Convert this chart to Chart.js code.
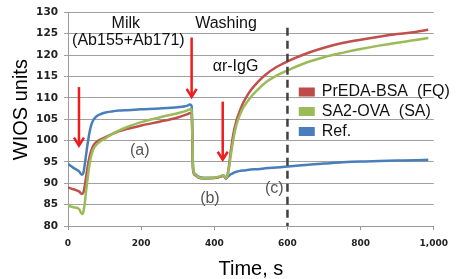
<!DOCTYPE html>
<html><head><meta charset="utf-8">
<script src="https://cdn.jsdelivr.net/npm/chart.js@4.4.0/dist/chart.umd.min.js"></script>
<style>html,body{margin:0;padding:0;background:#fff;overflow:hidden}</style>
</head><body>
<canvas id="c" width="456" height="279"></canvas>
<script>
// ---- data ----
const time  = [0, 15, 30, 38, 42, 46, 50, 55, 60, 65, 70, 80, 90, 100, 120, 140, 160, 200, 250, 300, 325, 333, 338, 342, 347, 355, 370, 400, 415, 425, 432, 438, 445, 452, 460, 470, 480, 500, 520, 540, 570, 600, 650, 700, 750, 800, 850, 900, 950, 985];
const preda = [89.0, 88.6, 88.1, 87.5, 87.8, 89.5, 91.8, 94.5, 96.6, 98.0, 98.9, 99.8, 100.3, 100.7, 101.5, 102.2, 102.7, 103.5, 104.4, 105.4, 106.1, 106.4, 106.5, 93.0, 91.9, 91.4, 91.1, 91.2, 91.5, 91.8, 91.1, 92.8, 97.5, 101.5, 104.5, 107.0, 109.0, 111.8, 113.8, 115.4, 117.2, 118.5, 120.3, 121.7, 122.8, 123.6, 124.3, 124.9, 125.4, 125.9];
const sa2   = [84.7, 84.4, 84.0, 82.8, 83.3, 85.5, 88.5, 92.0, 95.0, 96.9, 98.1, 99.2, 99.9, 100.4, 101.5, 102.4, 103.1, 104.3, 105.4, 106.4, 107.0, 107.3, 107.4, 93.4, 92.1, 91.5, 91.2, 91.3, 91.6, 91.9, 91.2, 92.4, 96.5, 100.2, 103.5, 106.0, 107.8, 110.2, 112.0, 113.6, 115.2, 116.4, 118.2, 119.5, 120.5, 121.4, 122.2, 122.9, 123.5, 124.0];
const ref   = [94.5, 93.6, 92.8, 92.0, 92.4, 94.5, 97.0, 100.0, 102.4, 104.0, 104.9, 105.8, 106.2, 106.5, 106.8, 107.0, 107.1, 107.3, 107.5, 107.8, 108.1, 108.4, 108.1, 93.5, 92.2, 91.6, 91.3, 91.3, 91.5, 91.8, 91.1, 91.6, 92.1, 92.4, 92.7, 92.9, 93.0, 93.2, 93.3, 93.5, 93.7, 93.9, 94.3, 94.6, 94.9, 95.1, 95.2, 95.3, 95.4, 95.5];
const seriesLabels = ['PrEDA-BSA  (FQ)', 'SA2-OVA  (SA)', 'Ref.'];
const xTickValues = [0, 200, 400, 600, 800, 1000];
const yTickValues = [80, 85, 90, 95, 100, 105, 110, 115, 120, 125, 130];

// annotations (data coordinates)
const arrowX   = [30, 338, 423];
const arrowTop = [112.5, 124.1, 109.1];
const arrowTip = [98.8, 110.2, 95.5];
const markerTime = 600;
const noteTexts = ['Milk', '(Ab155+Ab171)', 'Washing', '\u03B1r-IgG', '(a)', '(b)', '(c)'];
const noteX = [158, 165, 432, 458, 196, 388, 564];
const noteY = [127.3, 123.3, 127.3, 117.2, 97.6, 86.3, 88.8];

const lineColors = ['#c0504d', '#9bbb59', '#4a7ebb'];
const legendColors = ['#be4b48', '#9bbb59', '#4a7ebb'];

const toXY = arr => time.map((t, i) => ({x: t, y: arr[i]}));

const annotPlugin = {
  id: 'annot',
  afterDatasetsDraw(chart) {
    const {ctx, scales: {x, y}, chartArea} = chart;
    ctx.save();
    // dashed marker line
    ctx.strokeStyle = '#404040';
    ctx.lineWidth = 2.5;
    ctx.setLineDash([8, 5]);
    ctx.beginPath();
    ctx.moveTo(x.getPixelForValue(markerTime), y.getPixelForValue(126.4));
    ctx.lineTo(x.getPixelForValue(markerTime), y.getPixelForValue(80));
    ctx.stroke();
    ctx.setLineDash([]);
    // arrows
    ctx.strokeStyle = '#ee1c1c';
    ctx.lineWidth = 2.5;
    ctx.lineCap = 'butt';
    for (let i = 0; i < arrowX.length; i++) {
      const px = x.getPixelForValue(arrowX[i]);
      const pt = y.getPixelForValue(arrowTop[i]);
      const pb = y.getPixelForValue(arrowTip[i]);
      ctx.beginPath();
      ctx.moveTo(px, pt); ctx.lineTo(px, pb - 1);
      ctx.stroke();
      ctx.beginPath();
      ctx.moveTo(px - 5, pb - 8); ctx.lineTo(px, pb); ctx.lineTo(px + 5, pb - 8);
      ctx.stroke();
    }
    // notes
    ctx.font = '16px "Liberation Sans", Arial, sans-serif';
    ctx.textAlign = 'center';
    ctx.textBaseline = 'middle';
    for (let i = 0; i < noteTexts.length; i++) {
      ctx.fillStyle = i >= 4 ? '#555' : '#111';
      ctx.fillText(noteTexts[i], x.getPixelForValue(noteX[i]), y.getPixelForValue(noteY[i]));
    }
    // legend
    const lx = chartArea.right - 135;
    const rows = [92, 111.5, 131.5];
    ctx.textAlign = 'left';
    ctx.fillStyle = '#111';
    for (let i = 0; i < seriesLabels.length; i++) {
      ctx.fillStyle = legendColors[i];
      ctx.fillRect(lx, rows[i] - 4.5, 16, 9);
      ctx.fillStyle = '#111';
      ctx.fillText(seriesLabels[i], lx + 23, rows[i]);
    }
    // y axis title
    ctx.save();
    ctx.translate(chartArea.left - 47, (chartArea.top + chartArea.bottom) / 2 - 9.5);
    ctx.rotate(-Math.PI / 2);
    ctx.textAlign = 'center';
    ctx.font = '20px "Liberation Sans", Arial, sans-serif';
    ctx.fillStyle = '#000';
    ctx.fillText('WIOS units', 0, 0);
    ctx.restore();
    ctx.restore();
  }
};

const common = {borderWidth: 2.5, pointRadius: 0, fill: false, cubicInterpolationMode: 'monotone'};

new Chart(document.getElementById('c'), {
  type: 'line',
  data: {
    datasets: [
      Object.assign({label: seriesLabels[0], data: toXY(preda), borderColor: lineColors[0], order: 1}, common),
      Object.assign({label: seriesLabels[1], data: toXY(sa2), borderColor: lineColors[1], order: 0}, common),
      Object.assign({label: seriesLabels[2], data: toXY(ref), borderColor: lineColors[2], order: 2}, common)
    ]
  },
  options: {
    responsive: false,
    devicePixelRatio: 1,
    animation: false,
    layout: {padding: {left: 0, right: 21, top: 12, bottom: 0}},
    plugins: {legend: {display: false}, tooltip: {enabled: false}},
    scales: {
      x: {
        type: 'linear', min: 0, max: 1000,
        afterBuildTicks: s => { s.ticks = xTickValues.map(v => ({value: v})); },
        afterFit: s => { s.height = 53; },
        grid: {drawOnChartArea: false, drawTicks: true, tickLength: 4, color: '#999', lineWidth: 1},
        border: {color: '#999', width: 1},
        ticks: {padding: 8, color: '#222', font: {family: '"DejaVu Sans"', size: 9, weight: 'bold'}},
        title: {display: true, text: 'Time, s', color: '#000', padding: {top: 0, bottom: 0},
                font: {family: '"Liberation Sans", Arial, sans-serif', size: 20, lineHeight: 1}}
      },
      y: {
        min: 80, max: 130,
        afterBuildTicks: s => { s.ticks = yTickValues.map(v => ({value: v})); },
        afterFit: s => { s.width = 68; },
        grid: {color: '#a0a0a0', lineWidth: 1, tickLength: 4},
        border: {color: '#999', width: 1},
        ticks: {padding: 6, color: '#222', font: {family: '"DejaVu Sans"', size: 10.5, weight: 'bold'}}
      }
    }
  },
  plugins: [annotPlugin]
});
</script>
</body></html>
